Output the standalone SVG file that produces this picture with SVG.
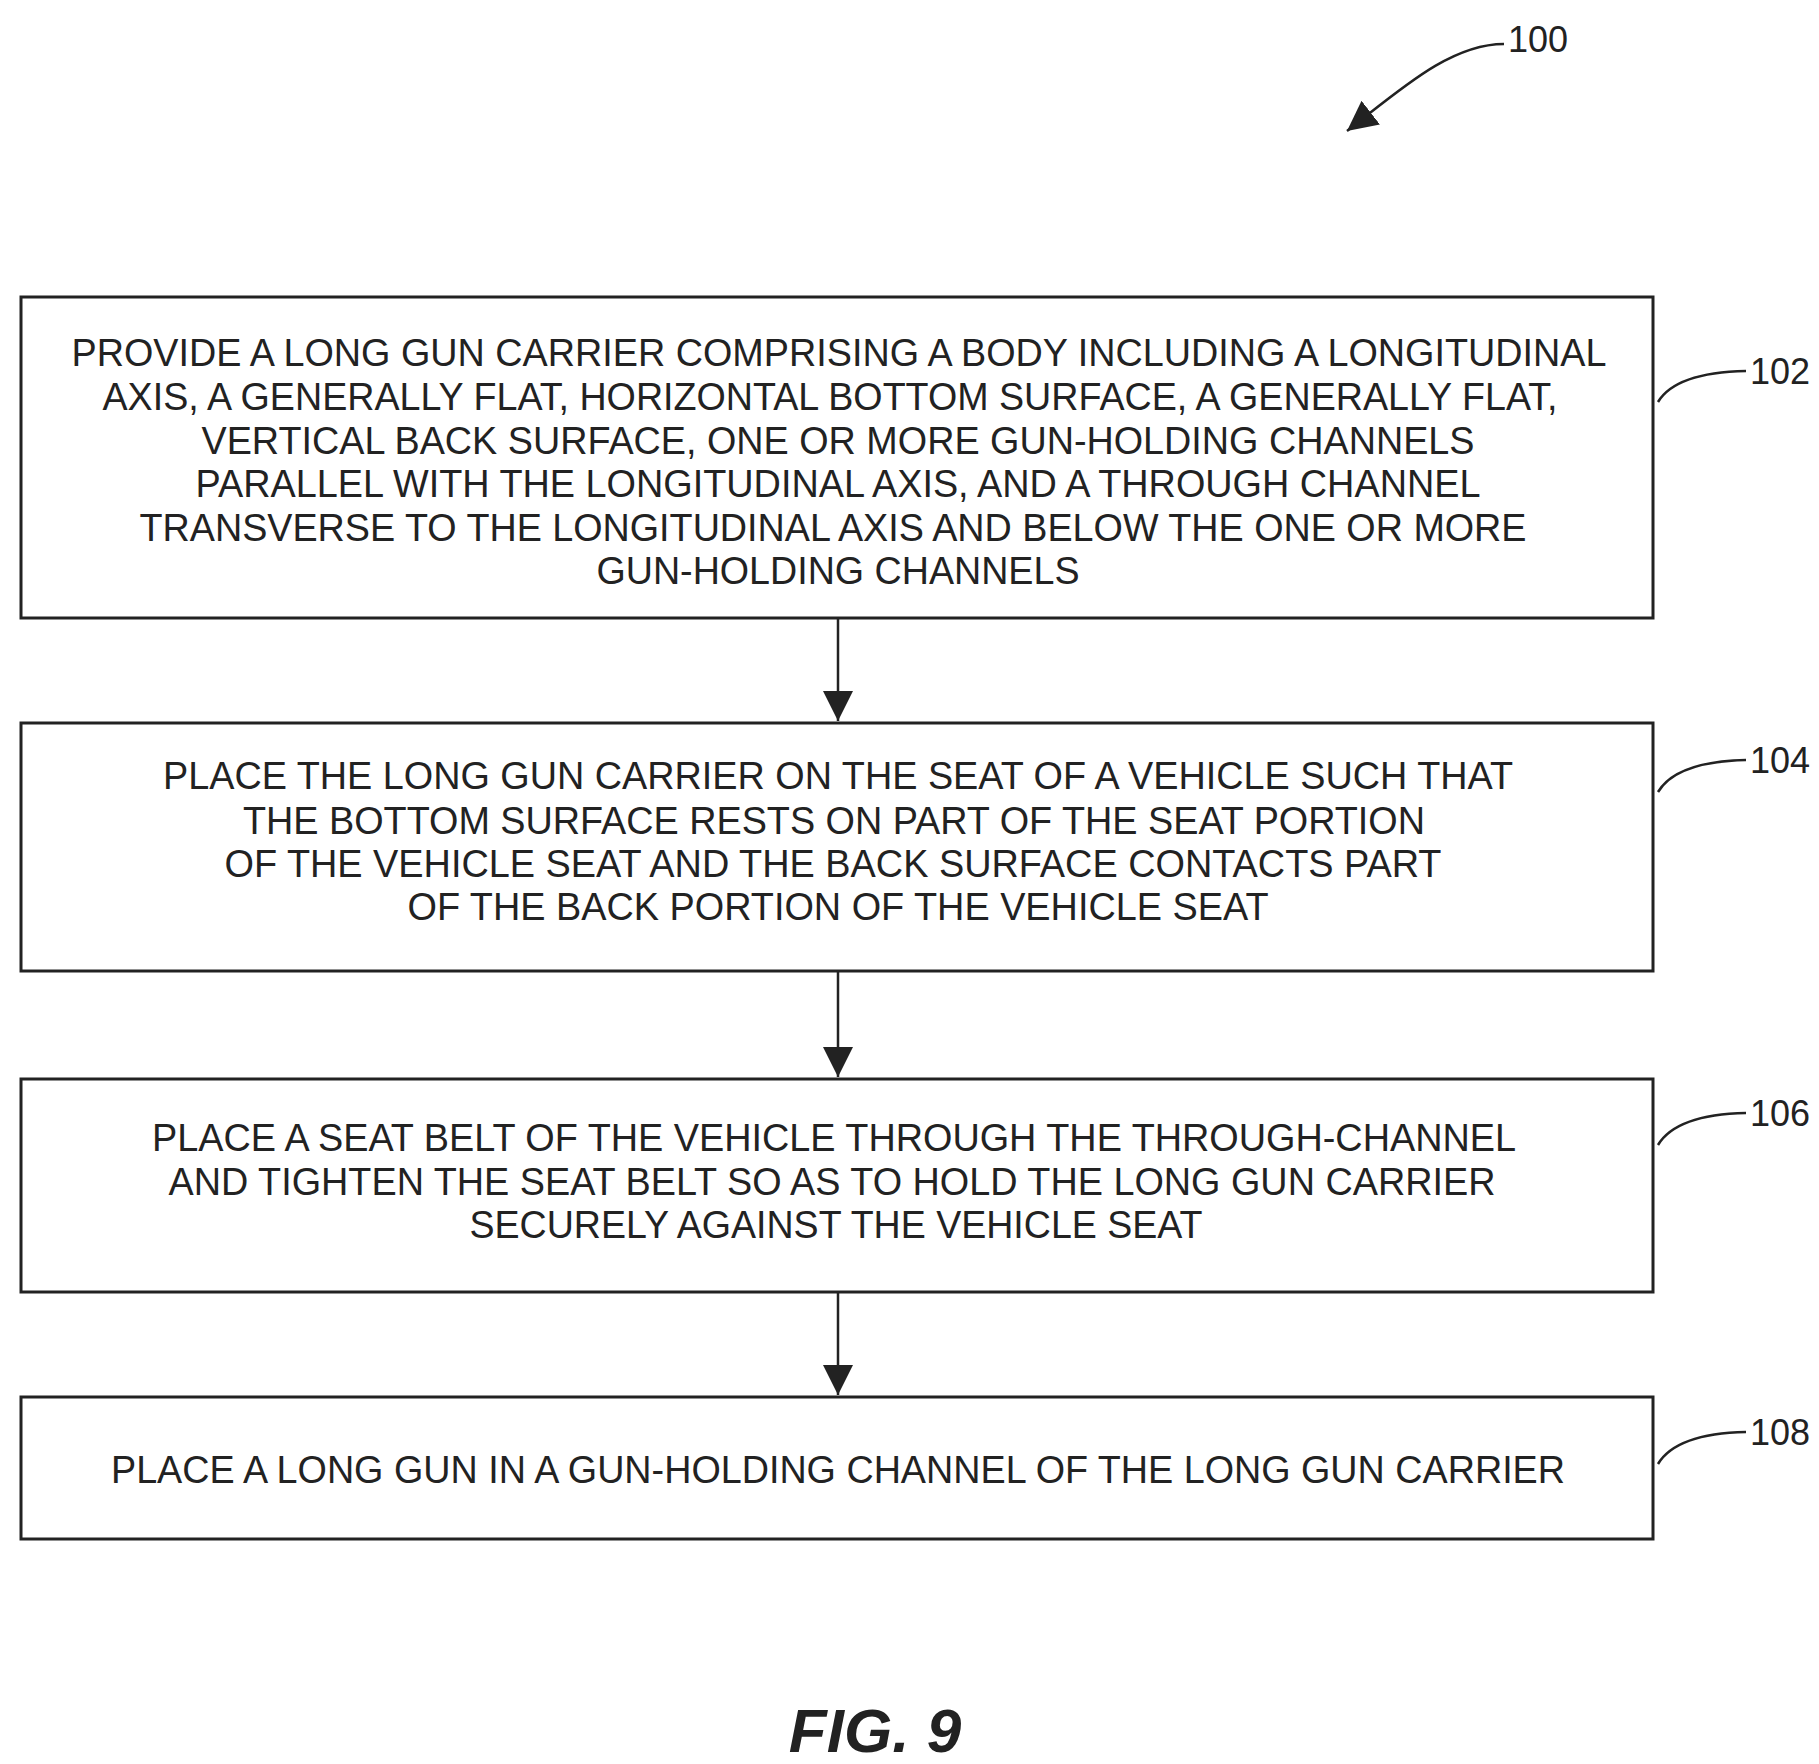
<svg xmlns="http://www.w3.org/2000/svg" width="1819" height="1764" viewBox="0 0 1819 1764">
<style>
.b{fill:#fff;stroke:#222;stroke-width:3}
.t{font-family:"Liberation Sans",Arial,sans-serif;font-size:38px;fill:#222;text-anchor:middle}
.l{font-family:"Liberation Sans",Arial,sans-serif;font-size:36px;fill:#222}
.c{fill:none;stroke:#222;stroke-width:2.5}
</style>
<defs><marker id="a" viewBox="0 0 10 10" refX="10" refY="5" markerWidth="9" markerHeight="9" markerUnits="userSpaceOnUse" orient="auto"><path d="M0,0L10,5L0,10z" fill="#222"/></marker>
<marker id="a2" viewBox="0 0 10 10" refX="10" refY="5" markerWidth="30" markerHeight="30" markerUnits="userSpaceOnUse" orient="auto"><path d="M0,0L10,5L0,10z" fill="#222"/></marker></defs>
<rect width="1819" height="1764" fill="#fff"/>
<g id="n102"><rect class="b" x="21" y="297" width="1632" height="321"/>
<text class="t"><tspan x="839" y="366" textLength="1535" lengthAdjust="spacingAndGlyphs">PROVIDE A LONG GUN CARRIER COMPRISING A BODY INCLUDING A LONGITUDINAL</tspan><tspan x="830" y="410" textLength="1455" lengthAdjust="spacingAndGlyphs">AXIS, A GENERALLY FLAT, HORIZONTAL BOTTOM SURFACE, A GENERALLY FLAT,</tspan><tspan x="838" y="454" textLength="1273" lengthAdjust="spacingAndGlyphs">VERTICAL BACK SURFACE, ONE OR MORE GUN-HOLDING CHANNELS</tspan><tspan x="838" y="497" textLength="1285" lengthAdjust="spacingAndGlyphs">PARALLEL WITH THE LONGITUDINAL AXIS, AND A THROUGH CHANNEL</tspan><tspan x="833" y="541" textLength="1387" lengthAdjust="spacingAndGlyphs">TRANSVERSE TO THE LONGITUDINAL AXIS AND BELOW THE ONE OR MORE</tspan><tspan x="838" y="584" textLength="483" lengthAdjust="spacingAndGlyphs">GUN-HOLDING CHANNELS</tspan></text>
<path class="c" d="M1658,402 C1670,382 1700,372 1746,371"/><text class="l" x="1750" y="384">102</text></g>
<g id="n104"><rect class="b" x="21" y="723" width="1632" height="248"/>
<text class="t"><tspan x="838" y="789" textLength="1350" lengthAdjust="spacingAndGlyphs">PLACE THE LONG GUN CARRIER ON THE SEAT OF A VEHICLE SUCH THAT</tspan><tspan x="834" y="834" textLength="1182" lengthAdjust="spacingAndGlyphs">THE BOTTOM SURFACE RESTS ON PART OF THE SEAT PORTION</tspan><tspan x="833" y="877" textLength="1217" lengthAdjust="spacingAndGlyphs">OF THE VEHICLE SEAT AND THE BACK SURFACE CONTACTS PART</tspan><tspan x="838" y="920" textLength="861" lengthAdjust="spacingAndGlyphs">OF THE BACK PORTION OF THE VEHICLE SEAT</tspan></text>
<path class="c" d="M1658,792 C1670,772 1700,761 1746,760"/><text class="l" x="1750" y="773">104</text></g>
<g id="n106"><rect class="b" x="21" y="1079" width="1632" height="213"/>
<text class="t"><tspan x="834" y="1151" textLength="1364" lengthAdjust="spacingAndGlyphs">PLACE A SEAT BELT OF THE VEHICLE THROUGH THE THROUGH-CHANNEL</tspan><tspan x="832" y="1195" textLength="1327" lengthAdjust="spacingAndGlyphs">AND TIGHTEN THE SEAT BELT SO AS TO HOLD THE LONG GUN CARRIER</tspan><tspan x="836" y="1238" textLength="733" lengthAdjust="spacingAndGlyphs">SECURELY AGAINST THE VEHICLE SEAT</tspan></text>
<path class="c" d="M1658,1145 C1670,1125 1700,1114 1746,1113"/><text class="l" x="1750" y="1126">106</text></g>
<g id="n108"><rect class="b" x="21" y="1397" width="1632" height="142"/>
<text class="t"><tspan x="838" y="1483" textLength="1454" lengthAdjust="spacingAndGlyphs">PLACE A LONG GUN IN A GUN-HOLDING CHANNEL OF THE LONG GUN CARRIER</tspan></text>
<path class="c" d="M1658,1464 C1670,1444 1700,1433 1746,1432"/><text class="l" x="1750" y="1445">108</text></g>
<g id="connectors">
<line class="c" x1="838" y1="618" x2="838" y2="721" marker-end="url(#a2)"/>
<line class="c" x1="838" y1="971" x2="838" y2="1077" marker-end="url(#a2)"/>
<line class="c" x1="838" y1="1292" x2="838" y2="1395" marker-end="url(#a2)"/>
<path class="c" d="M1504,44 C1450,44 1400,90 1347,131" marker-end="url(#a2)"/>
</g>
<text class="l" x="1508" y="52">100</text>
<text x="875" y="1752" style="font-family:'Liberation Sans',Arial,sans-serif;font-size:62px;font-weight:bold;font-style:italic;fill:#222;text-anchor:middle">FIG. 9</text>
</svg>
